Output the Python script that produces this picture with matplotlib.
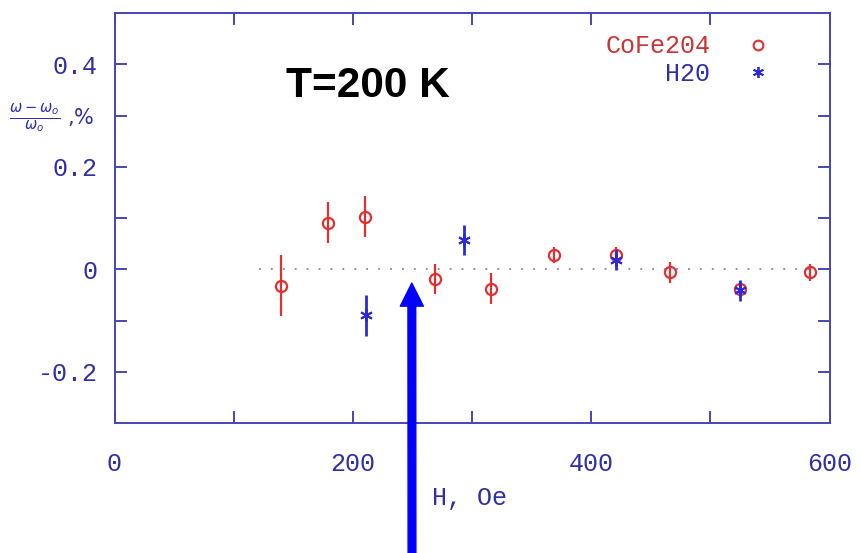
import matplotlib
matplotlib.use("Agg")
import matplotlib.pyplot as plt
from matplotlib.lines import Line2D

# CoFe2O4 resonance shift vs field
H_co = [140, 179, 210, 269, 316, 369, 421, 466, 525, 584]
d_co = [-0.032, 0.091, 0.102, -0.019, -0.038, 0.028, 0.028, -0.006, -0.038, -0.006]
e_co = [0.060, 0.040, 0.040, 0.030, 0.030, 0.015, 0.015, 0.020, 0.015, 0.017]

# H2O reference
H_w = [211, 293, 421, 525]
d_w = [-0.090, 0.057, 0.018, -0.041]
e_w = [0.040, 0.030, 0.020, 0.020]

x_ticks = [0, 200, 400, 600]
y_ticks = [-0.2, 0, 0.2, 0.4]
y_tick_labels = ["-0.2", "0", "0.2", "0.4"]

RED = "#e03030"
BLUE = "#2a2ad8"
AXC = "#4545b8"
LBL = "#2e2ea8"
mono = "Liberation Mono"

fig = plt.figure(figsize=(8.6, 5.53), dpi=100)
ax = fig.add_axes([114.5 / 860, 1 - 423 / 553, (829.5 - 114.5) / 860, (423 - 13) / 553])
ax.set_xlim(0, 600)
ax.set_ylim(-0.3, 0.5)

# zero reference line
ax.plot([121, 600], [0, 0], color="#888888", lw=1.3, linestyle=(0, (1, 5.6)), zorder=1)

ax.errorbar(H_co, d_co, yerr=e_co, fmt="o", ms=8, mfc="none", mec=RED, mew=1.6,
            ecolor=RED, elinewidth=1.6, capsize=0, zorder=3)
ax.errorbar(H_w, d_w, yerr=e_w, fmt="none", ecolor=BLUE, elinewidth=2.0, capsize=0, zorder=4)
ax.plot(H_w, d_w, linestyle="none", marker=(6, 2, 0), ms=9, mec=BLUE, mew=1.4, zorder=5)

for s in ax.spines.values():
    s.set_color(AXC)
    s.set_linewidth(1.4)

ax.set_xticks(x_ticks)
ax.set_xticks([100, 300, 500], minor=True)
ax.set_yticks(y_ticks)
ax.set_yticklabels(y_tick_labels)
ax.set_yticks([-0.1, 0.1, 0.3], minor=True)
ax.tick_params(which="both", direction="in", length=8.6, width=1.4, color=AXC,
               top=True, right=True, labelcolor=LBL, labelsize=18)
ax.tick_params(axis="x", which="major", pad=21)
ax.tick_params(axis="y", which="major", pad=12)
for lab in ax.get_xticklabels() + ax.get_yticklabels():
    lab.set_fontfamily(mono)

ax.set_xlabel("H, Oe", fontfamily=mono, fontsize=18, color=LBL)
ax.xaxis.set_label_coords((470 - 114.5) / (829.5 - 114.5), -0.153)

fig.text(9 / 860, 1 - 118 / 553, r"$\frac{\omega-\omega_o}{\omega_o}$" + " ,%",
         color=LBL, fontsize=15, ha="left", va="center")

ax.text(212.7, 0.358, "T=200 K", fontfamily="Liberation Sans", fontweight="bold",
        fontsize=30.5, color="black", ha="center", va="center")

handles = [
    Line2D([], [], linestyle="none", marker="o", ms=7, mfc="none", mec=RED, mew=1.5),
    Line2D([], [], linestyle="none", marker=(6, 2, 0), ms=8, mec=BLUE, mew=1.3),
]
leg = ax.legend(handles, ["CoFe204", "H20"], loc="upper right", frameon=False,
                markerfirst=False, handlelength=1.0, handletextpad=1.4,
                labelspacing=0.15, borderaxespad=0.45,
                bbox_to_anchor=(1 - 38 / 715, 1.0),
                prop={"family": mono, "size": 18})
leg.get_texts()[0].set_color("#cc3333")
leg.get_texts()[1].set_color(LBL)

# pointer arrow from below the axis
ax.annotate("", xy=(249.5, -0.027), xycoords="data",
            xytext=(412 / 860, -0.02), textcoords="figure fraction",
            arrowprops=dict(arrowstyle="simple,head_width=1.66,head_length=1.66,tail_width=0.56",
                            color="#0000ff", mutation_scale=10, shrinkA=0, shrinkB=0),
            annotation_clip=False)

fig.savefig("out.png", dpi=100)
